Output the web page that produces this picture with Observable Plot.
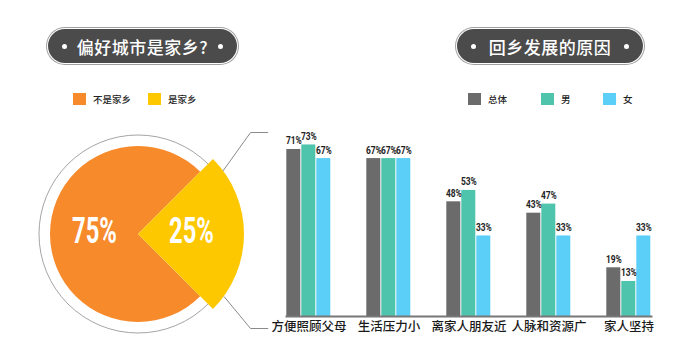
<!DOCTYPE html>
<html><head><meta charset="utf-8">
<script src="https://cdn.jsdelivr.net/npm/d3@7"></script>
<script src="https://cdn.jsdelivr.net/npm/@observablehq/plot@0.6"></script>
<style>
body{margin:0;background:#fff;font-family:"Noto Sans CJK SC",sans-serif;}
#wrap{position:relative;width:676px;height:359px;overflow:hidden;background:#fff}
#wrap svg{position:absolute;left:0;top:0;background:transparent}
.pill{position:absolute;height:34px;border-radius:17px;background:#4b4b4b;box-shadow:0 0 0 1px #fff,0 0 0 2px #a0a0a0;color:#fff;font-size:17px;font-weight:500;display:flex;align-items:center;justify-content:center;box-sizing:border-box;letter-spacing:0.5px}
.pill .dot{position:absolute;width:5px;height:5px;border-radius:50%;background:#fff;top:14.5px}
.leg{position:absolute;top:93px;height:12px;display:flex;align-items:center;font-size:9.5px;color:#222;white-space:nowrap;font-weight:500}
.leg i{display:inline-block;width:13px;height:12px;margin-right:7px}
</style>
</head><body>
<div id="wrap"></div>
<script>
// ---- data ----
const pieLabels = ["不是家乡", "是家乡"];
const pieValues = [75, 25];
const pieColors = ["#f78a2b", "#fdc800"];

const categories = ["方便照顾父母", "生活压力小", "离家人朋友近", "人脉和资源广", "家人坚持"];
const seriesNames = ["总体", "男", "女"];
const totalValues = [71, 67, 48, 43, 19];
const maleValues = [73, 67, 53, 47, 13];
const femaleValues = [67, 67, 33, 33, 33];
const seriesColors = ["#6b6b6b", "#4ec4ad", "#5bcff8"];

const leftTitle = "偏好城市是家乡?";
const rightTitle = "回乡发展的原因";

// ---- layout ----
const wrap = document.getElementById("wrap");

function pill(text, left, width) {
  const p = document.createElement("div");
  p.className = "pill";
  p.style.left = left + "px"; p.style.top = "29px"; p.style.width = width + "px";
  p.textContent = text;
  const d1 = document.createElement("span"); d1.className = "dot"; d1.style.left = "14px";
  const d2 = document.createElement("span"); d2.className = "dot"; d2.style.right = "14px";
  p.appendChild(d1); p.appendChild(d2);
  wrap.appendChild(p);
}
function legend(names, colors, lefts) {
  names.forEach((n, i) => {
    const l = document.createElement("div");
    l.className = "leg"; l.style.left = lefts[i] + "px";
    l.innerHTML = `<i style="background:${colors[i]}"></i>${n}`;
    wrap.appendChild(l);
  });
}
// condensed look for numeric labels (no condensed font installed)
function condense(svg, sx) {
  d3.select(svg).selectAll('g[aria-label="text"] text').each(function () {
    const t = this.getAttribute("transform") || "";
    this.setAttribute("transform", t + ` scale(${sx},1)`);
  });
}

// ---- bar chart ----
const rows = [];
categories.forEach((c, i) => {
  [totalValues, maleValues, femaleValues].forEach((vals, j) => {
    rows.push({category: c, series: seriesNames[j], value: vals[i]});
  });
});
const yFloor = -2.4;
const bars = Plot.plot({
  width: 676, height: 359,
  marginLeft: 285.7, marginRight: 25, marginTop: 128.5, marginBottom: 43,
  fx: {domain: categories, paddingInner: 0.434, paddingOuter: 0, label: null},
  x: {domain: seriesNames, paddingInner: 0.06, paddingOuter: 0, axis: null},
  y: {domain: [yFloor, 80], axis: null},
  color: {domain: seriesNames, range: seriesColors},
  style: {background: "transparent"},
  marks: [
    Plot.rectY(rows, {fx: "category", x: "series", y1: yFloor, y2: "value", fill: "series"}),
    Plot.frame({anchor: "bottom", facet: "super", stroke: "#777", strokeWidth: 2}),
    Plot.text(rows, {fx: "category", x: "series", y: "value", text: d => d.value + "%",
      lineAnchor: "bottom", dy: -5, fontSize: 10.5, fontWeight: "bold",
      fontFamily: "Roboto", fill: "#222"}),
    Plot.axisFx({anchor: "bottom", tickSize: 0, tickPadding: 6, label: null,
      fontSize: 12.5, fontWeight: 500, fill: "#1a1a1a", fontFamily: "Noto Sans CJK SC"})
  ]
});
condense(bars, 0.8);
wrap.appendChild(bars);

// ---- pie chart ----
const arcs = d3.pie().sort(null).startAngle(Math.PI * 0.75).endAngle(Math.PI * 2.75)(pieValues);
const radii = [88 / 106, 1];   // orange smaller, yellow pulled out
const ringR = 99 / 106;
const pieRows = arcs.map((a, i) => {
  const c = d3.arc().innerRadius(0).outerRadius(radii[i]).centroid(a);
  return {label: pieLabels[i], value: pieValues[i], cx: c[0], cy: -c[1]};
});
const leaders = [
  [[Math.cos(37 * Math.PI / 180), Math.sin(37 * Math.PI / 180)], [1.057, 0.962], [1.22, 0.962]],
  [[Math.cos(36 * Math.PI / 180), -Math.sin(36 * Math.PI / 180)], [1.057, -0.887], [1.22, -0.887]]
];
const pie = Plot.plot({
  width: 280, height: 359,
  marginLeft: 32, marginRight: 36, marginTop: 128, marginBottom: 19,
  x: {domain: [-1, 1], axis: null},
  y: {domain: [-1, 1], axis: null},
  style: {background: "transparent"},
  marks: [
    (index, scales) => {
      const cx = scales.x(0), cy = scales.y(0), u = scales.x(1) - cx;
      const g = d3.create("svg:g");
      g.append("circle").attr("cx", cx).attr("cy", cy).attr("r", ringR * u)
        .attr("fill", "none").attr("stroke", "#a5a5a5").attr("stroke-width", 1);
      arcs.forEach((a, i) => {
        g.append("path").attr("transform", `translate(${cx},${cy})`)
          .attr("d", d3.arc().innerRadius(0).outerRadius(radii[i] * u)(a))
          .attr("fill", pieColors[i]);
      });
      return g.node();
    },
    ...leaders.map(pts => Plot.line(pts, {x: d => d[0], y: d => d[1], stroke: "#8a8a8a", strokeWidth: 1})),
    Plot.text(pieRows, {x: "cx", y: "cy", text: d => d.value + "%", fill: "white",
      fontSize: 36, fontWeight: "bold", fontFamily: "Roboto", dy: -3})
  ]
});
condense(pie, 0.66);
wrap.appendChild(pie);

pill(leftTitle, 48, 189);
pill(rightTitle, 457, 186);
legend(pieLabels, pieColors, [73, 148]);
legend(seriesNames, seriesColors, [468, 541, 603]);
</script>
</body></html>
